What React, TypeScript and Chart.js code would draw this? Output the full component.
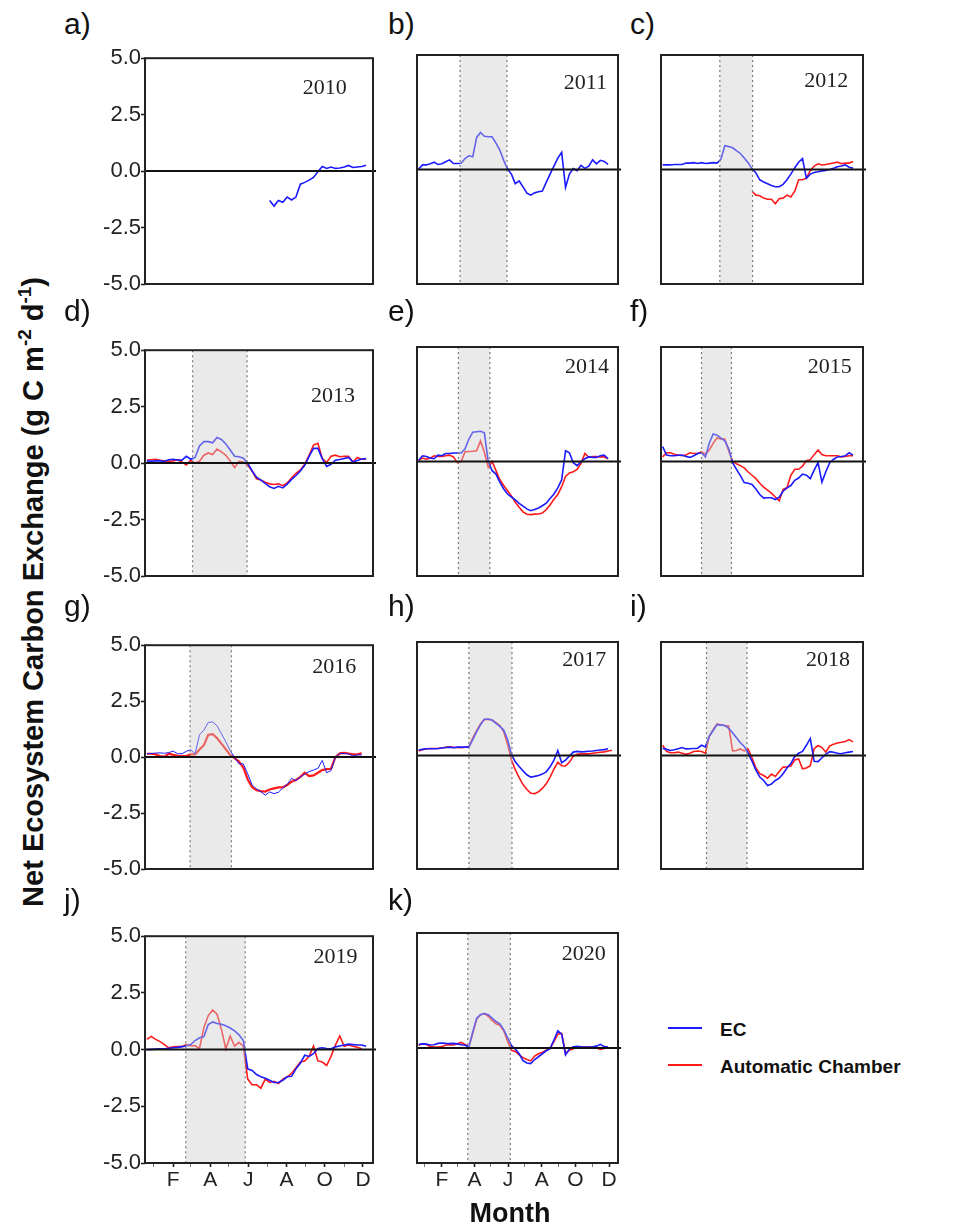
import React, { useEffect, useRef } from "react";
import { Chart, registerables } from "chart.js";

Chart.register(...registerables);

// ---------- data ----------
// weekly sampling grid (day of year)
const WEEK_DOY = Array.from({ length: 52 }, (_, i) => 4 + 7 * i);
// month tick positions (mid-month, day of year)
const MONTH_TICKS = [15, 46, 74, 105, 135, 166, 196, 227, 258, 288, 319, 349];
const MONTH_LABELS = ["", "F", "", "A", "", "J", "", "A", "", "O", "", "D"];
const Y_TICKS = [-5, -2.5, 0, 2.5, 5];

const YEARS = ["2010", "2011", "2012", "2013", "2014", "2015", "2016", "2017", "2018", "2019", "2020"];
const PANEL_LETTERS = ["a)", "b)", "c)", "d)", "e)", "f)", "g)", "h)", "i)", "j)", "k)"];

// growing-season shading (start DOY, end DOY); null = none
const SHADE_2010 = null;
const SHADE_2011 = [79, 164];
const SHADE_2012 = [107, 166];
const SHADE_2013 = [77, 164];
const SHADE_2014 = [76, 133];
const SHADE_2015 = [74, 128];
const SHADE_2016 = [73, 139];
const SHADE_2017 = [95, 173];
const SHADE_2018 = [83, 156];
const SHADE_2019 = [66, 161];
const SHADE_2020 = [93, 170];

const EC_2010 = [...Array(28).fill(null),
  -1.3, -1.55, -1.3, -1.38, -1.15, -1.28, -1.15, -0.58, -0.5, -0.4,
  -0.28, -0.03, 0.2, 0.12, 0.18, 0.12, 0.14, 0.18, 0.25, 0.16,
  0.18, 0.2, 0.26];

const EC_2011 = [0.02, 0.2, 0.2, 0.25, 0.32, 0.22, 0.25, 0.34, 0.42, 0.26,
  0.26, 0.27, 0.48, 0.6, 0.56, 1.4, 1.62, 1.45, 1.43, 1.43,
  1.15, 0.85, 0.4, 0.02, -0.2, -0.62, -0.5, -0.76, -1.03, -1.12,
  -1.02, -0.97, -0.94, -0.56, -0.2, 0.15, 0.5, 0.75, -0.78, -0.2,
  0.04, -0.05, 0.18, 0.05, 0.15, 0.42, 0.25, 0.4, 0.35, 0.22];

const EC_2012 = [0.2, 0.2, 0.2, 0.22, 0.22, 0.22, 0.28, 0.28, 0.3, 0.26,
  0.3, 0.26, 0.28, 0.3, 0.28, 0.45, 1.04, 1.0, 0.95, 0.82,
  0.7, 0.5, 0.3, 0.03, -0.15, -0.45, -0.55, -0.62, -0.7, -0.75,
  -0.75, -0.65, -0.45, -0.2, 0.08, 0.32, 0.48, -0.38, -0.2, -0.13,
  -0.1, -0.06, -0.04, 0.0, 0.05, 0.12, 0.15, 0.2, 0.1, 0.06];
const AC_2012 = [...Array(23).fill(null),
  -0.95, -1.12, -1.15, -1.25, -1.3, -1.3, -1.5, -1.28, -1.25, -1.12,
  -1.2, -0.95, -0.45, -0.45, -0.38, -0.05, 0.15, 0.25, 0.2, 0.22,
  0.25, 0.28, 0.32, 0.25, 0.28, 0.28, 0.35];

const EC_2013 = [0.1, 0.08, 0.1, 0.1, 0.08, 0.15, 0.17, 0.14, 0.13, 0.3,
  0.17, 0.25, 0.76, 0.95, 0.95, 0.9, 1.13, 1.05, 0.85, 0.58,
  0.3, 0.28, 0.22, 0.0, -0.35, -0.62, -0.75, -0.9, -1.05, -1.12,
  -1.03, -1.1, -0.93, -0.72, -0.55, -0.35, -0.1, 0.3, 0.65, 0.65,
  0.2, -0.15, -0.05, 0.13, 0.16, 0.2, 0.25, 0.05, 0.12, 0.18, 0.2];
const AC_2013 = [0.13, 0.15, 0.17, 0.12, 0.1, 0.08, 0.1, 0.15, 0.05, -0.08,
  0.12, 0.0, 0.08, 0.35, 0.45, 0.38, 0.62, 0.5, 0.35, 0.1,
  -0.2, 0.08, 0.05, -0.1, -0.35, -0.7, -0.75, -0.85, -0.92, -0.95,
  -0.92, -1.0, -0.88, -0.65, -0.45, -0.3, -0.05, 0.35, 0.8, 0.88,
  0.2, 0.03, 0.3, 0.35, 0.28, 0.3, 0.3, 0.05, 0.25, 0.17, 0.17];

const EC_2014 = [0.05, 0.25, 0.22, 0.15, 0.12, 0.28, 0.25, 0.35, 0.35, 0.37,
  0.37, 0.37, 0.55, 0.98, 1.28, 1.3, 1.32, 1.25, 0.0, -0.4,
  -0.55, -0.9, -1.2, -1.42, -1.55, -1.68, -1.83, -1.95, -2.07, -2.15,
  -2.1, -2.03, -1.93, -1.82, -1.62, -1.42, -1.15, -0.8, 0.47, 0.38,
  -0.05, -0.18, -0.02, 0.12, 0.2, 0.18, 0.18, 0.25, 0.28, 0.12];
const AC_2014 = [0.05, 0.15, 0.1, 0.15, 0.25, 0.22, 0.22, 0.25, 0.28, 0.2,
  -0.05, 0.0, 0.43, 0.44, 0.45, 0.47, 0.9, 0.4, -0.25, 0.0,
  -0.4, -0.8, -1.05, -1.28, -1.5, -1.78, -2.0, -2.2, -2.3, -2.32,
  -2.3, -2.29, -2.25, -2.1, -1.9, -1.65, -1.44, -1.1, -0.65, -0.5,
  -0.45, -0.35, -0.08, 0.35, 0.18, 0.22, 0.22, 0.2, 0.2, 0.12];

const EC_2015 = [0.65, 0.28, 0.25, 0.25, 0.27, 0.28, 0.22, 0.18, 0.25, 0.35,
  0.38, 0.2, 0.8, 1.2, 1.15, 1.02, 0.9, 0.55, -0.05, -0.34,
  -0.62, -0.92, -0.95, -1.0, -1.2, -1.44, -1.6, -1.58, -1.58, -1.66,
  -1.56, -1.3, -1.15, -1.05, -0.82, -0.72, -0.55, -0.6, -0.75, -0.38,
  -0.05, -0.9, -0.45, -0.05, 0.1, 0.2, 0.22, 0.25, 0.38, 0.28];
const AC_2015 = [0.2, 0.38, 0.38, 0.32, 0.28, 0.25, 0.28, 0.38, 0.35, 0.35,
  0.42, 0.32, 0.5, 0.79, 1.03, 0.98, 0.98, 0.47, 0.0, -0.1,
  -0.18, -0.28, -0.46, -0.6, -0.75, -0.95, -1.12, -1.25, -1.38, -1.55,
  -1.72, -1.22, -1.15, -0.6, -0.34, -0.34, -0.2, 0.03, 0.08, 0.3,
  0.5, 0.3, 0.25, 0.25, 0.25, 0.25, 0.2, 0.22, 0.25, 0.25];

const EC_2016 = [0.15, 0.16, 0.18, 0.19, 0.17, 0.2, 0.27, 0.15, 0.15, 0.26,
  0.33, 0.15, 1.0, 1.2, 1.55, 1.57, 1.4, 1.05, 0.68, 0.3,
  -0.02, -0.3, -0.3, -0.75, -1.25, -1.42, -1.55, -1.7, -1.56, -1.63,
  -1.57, -1.38, -1.22, -0.95, -1.05, -0.9, -0.76, -0.65, -0.58, -0.5,
  -0.15, -0.7, -0.6, 0.0, 0.16, 0.16, 0.14, 0.05, 0.1, 0.09];
const AC_2016 = [0.15, 0.15, 0.12, 0.05, 0.02, 0.15, 0.1, 0.06, 0.04, 0.05,
  0.12, 0.12, 0.34, 0.53, 1.0, 1.03, 0.85, 0.6, 0.35, 0.1,
  -0.05, -0.2, -0.47, -1.0, -1.35, -1.48, -1.52, -1.54, -1.45, -1.4,
  -1.35, -1.35, -1.25, -1.1, -1.02, -0.88, -0.7, -0.85, -0.82, -0.7,
  -0.58, -0.54, -0.52, 0.0, 0.17, 0.19, 0.16, 0.12, 0.12, 0.17];

const EC_2017 = [0.24, 0.27, 0.3, 0.3, 0.3, 0.31, 0.33, 0.35, 0.37, 0.34,
  0.37, 0.37, 0.37, 0.37, 0.7, 1.05, 1.35, 1.6, 1.6, 1.56,
  1.42, 1.28, 1.12, 0.7, 0.05, -0.28, -0.48, -0.68, -0.85, -0.95,
  -0.92, -0.88, -0.82, -0.72, -0.5, -0.2, 0.22, -0.32, -0.2, -0.02,
  0.15, 0.18, 0.16, 0.17, 0.19, 0.2, 0.22, 0.24, 0.26, 0.3];
const AC_2017 = [0.2, 0.26, 0.3, 0.31, 0.31, 0.31, 0.33, 0.36, 0.38, 0.36,
  0.35, 0.34, 0.36, 0.38, 0.78, 1.1, 1.4, 1.58, 1.6, 1.56,
  1.45, 1.32, 1.05, 0.5, -0.2, -0.62, -0.97, -1.28, -1.5, -1.66,
  -1.68, -1.6, -1.45, -1.25, -0.95, -0.6, -0.3, -0.45, -0.46, -0.3,
  -0.03, 0.05, 0.07, 0.07, 0.07, 0.1, 0.12, 0.14, 0.16, 0.2, 0.23];

const EC_2018 = [0.32, 0.27, 0.22, 0.25, 0.3, 0.35, 0.29, 0.3, 0.31, 0.32,
  0.45, 0.38, 0.85, 1.1, 1.36, 1.34, 1.32, 1.2, 1.0, 0.78,
  0.56, 0.4, 0.1, -0.25, -0.65, -0.95, -1.1, -1.32, -1.26, -1.1,
  -1.0, -0.8, -0.55, -0.35, -0.05, 0.1, 0.18, 0.45, 0.75, -0.25,
  -0.27, -0.1, 0.05, 0.17, 0.14, 0.1, 0.08, 0.12, 0.15, 0.18];
const AC_2018 = [0.45, 0.18, 0.12, 0.12, 0.15, 0.1, 0.05, 0.1, 0.18, 0.2,
  0.18, 0.1, 0.85, 1.15, 1.39, 1.35, 1.32, 1.3, 0.2, 0.22,
  0.29, 0.2, 0.28, -0.1, -0.55, -0.8, -0.88, -1.0, -0.82, -0.92,
  -0.7, -0.51, -0.5, -0.46, -0.2, -0.15, -0.59, -0.55, -0.45, 0.3,
  0.44, 0.35, 0.15, 0.42, 0.5, 0.55, 0.58, 0.62, 0.7, 0.6];

const EC_2019 = [0.0, 0.01, 0.02, 0.03, 0.04, 0.06, 0.08, 0.1, 0.13, 0.16,
  0.22, 0.4, 0.52, 0.57, 1.1, 1.22, 1.15, 1.12, 1.05, 0.95,
  0.83, 0.65, 0.4, -0.85, -0.92, -1.1, -1.2, -1.26, -1.35, -1.45,
  -1.45, -1.35, -1.2, -1.18, -0.85, -0.6, -0.25, -0.3, -0.18, 0.05,
  0.08, 0.05, 0.04, 0.12, 0.16, 0.2, 0.24, 0.22, 0.2, 0.2, 0.15];
const AC_2019 = [0.45, 0.58, 0.45, 0.35, 0.22, 0.08, 0.12, 0.13, 0.13, 0.22,
  0.17, 0.17, 0.05, 0.97, 1.5, 1.75, 1.56, 0.9, 0.03, 0.6,
  0.15, 0.32, 0.15, -1.3, -1.55, -1.55, -1.7, -1.3, -1.45, -1.4,
  -1.5, -1.3, -1.2, -1.05, -0.8, -0.55, -0.5, -0.3, 0.15, -0.5,
  -0.55, -0.7, -0.3, 0.2, 0.6, 0.15, 0.2, 0.15, 0.1, 0.04];

const EC_2020 = [0.15, 0.18, 0.17, 0.13, 0.14, 0.2, 0.22, 0.2, 0.19, 0.2,
  0.18, 0.14, 0.12, 0.05, 0.7, 1.3, 1.45, 1.5, 1.45, 1.3,
  1.15, 1.05, 0.8, 0.45, 0.1, -0.05, -0.25, -0.55, -0.65, -0.68,
  -0.5, -0.38, -0.25, -0.12, -0.03, 0.35, 0.75, 0.6, -0.3, -0.05,
  0.05, 0.07, 0.05, 0.04, 0.04, 0.05, 0.08, 0.16, 0.06, 0.04];
const AC_2020 = [0.12, 0.18, 0.15, 0.06, 0.04, 0.04, 0.06, 0.13, 0.14, 0.13,
  0.18, 0.24, 0.15, 0.05, 0.63, 1.25, 1.45, 1.5, 1.38, 1.2,
  1.05, 0.99, 0.75, 0.3, -0.1, -0.15, -0.3, -0.42, -0.5, -0.56,
  -0.35, -0.25, -0.18, -0.1, -0.02, 0.28, 0.6, 0.63, -0.22, -0.1,
  -0.03, 0.03, 0.04, 0.04, 0.04, 0.04, 0.0, -0.06, -0.02, 0.04];

const EC_SERIES = [EC_2010, EC_2011, EC_2012, EC_2013, EC_2014, EC_2015, EC_2016, EC_2017, EC_2018, EC_2019, EC_2020];
const AC_SERIES = [null, null, AC_2012, AC_2013, AC_2014, AC_2015, AC_2016, AC_2017, AC_2018, AC_2019, AC_2020];
const SHADES = [SHADE_2010, SHADE_2011, SHADE_2012, SHADE_2013, SHADE_2014, SHADE_2015, SHADE_2016, SHADE_2017, SHADE_2018, SHADE_2019, SHADE_2020];

// ---------- layout & style ----------
const COL_X = [145, 417, 661];
const COL_W = [228, 201, 202];
const ROW_Y = [55, 347, 642, 933];
const ROW_H = [229, 229, 227, 230];
const LABEL_X = [64, 388, 630];
const LABEL_BASE = [34, 321, 616, 910];
// year label anchor in data units (DOY, value)
const YEAR_POS = [[288, 3.67], [306, 3.76], [299, 3.87], [301, 2.97], [309, 4.1], [305, 4.1], [303, 4.03], [304, 4.2], [302, 4.2], [305, 4.07], [303, 4.07]];

const PAD_L = 70, PAD_R = 10, PAD_T = 10, PAD_B = 32;
const BLUE = "#1a1aff";
const RED = "#ff1a1a";
const SANS = '"Liberation Sans", Arial, Helvetica, sans-serif';
const SERIF = '"Liberation Serif", "Times New Roman", serif';

const toXY = (vals: (number | null)[]) =>
  vals.map((v, i) => ({ x: WEEK_DOY[i], y: v }));

const decoPlugin = {
  id: "panelDeco",
  afterDatasetsDraw(chart: any, _args: any, opts: any) {
    const { ctx, chartArea: a, scales } = chart;
    const x = scales.x, y = scales.y;
    ctx.save();
    if (opts.shade) {
      const x0 = x.getPixelForValue(opts.shade[0]);
      const x1 = x.getPixelForValue(opts.shade[1]);
      ctx.fillStyle = "rgba(205,205,205,0.42)";
      ctx.fillRect(x0, a.top, x1 - x0, a.bottom - a.top);
      ctx.strokeStyle = "#7a7a7a";
      ctx.lineWidth = 1.2;
      ctx.setLineDash([2, 3]);
      for (const xv of [x0, x1]) {
        ctx.beginPath();
        ctx.moveTo(xv, a.top);
        ctx.lineTo(xv, a.bottom);
        ctx.stroke();
      }
      ctx.setLineDash([]);
    }
    const y0 = y.getPixelForValue(0);
    ctx.strokeStyle = "#111";
    ctx.lineWidth = 2;
    ctx.beginPath();
    ctx.moveTo(a.left, y0);
    ctx.lineTo(a.right + 3, y0);
    ctx.stroke();
    ctx.strokeStyle = "#222";
    ctx.lineWidth = 2;
    ctx.strokeRect(a.left, a.top, a.right - a.left, a.bottom - a.top);
    ctx.fillStyle = "#222";
    ctx.font = `22px ${SERIF}`;
    ctx.textAlign = "center";
    ctx.textBaseline = "middle";
    ctx.fillText(opts.year, x.getPixelForValue(opts.yearPos[0]), y.getPixelForValue(opts.yearPos[1]));
    ctx.restore();
  },
};

function Panel({ idx }: { idx: number }) {
  const ref = useRef<HTMLCanvasElement | null>(null);
  const col = idx % 3;
  const row = Math.floor(idx / 3);
  const L = COL_X[col], W = COL_W[col], T = ROW_Y[row], H = ROW_H[row];
  const cw = W + PAD_L + PAD_R;
  const ch = H + PAD_T + PAD_B;

  useEffect(() => {
    const showY = col === 0;
    const showX = row === 3;
    const datasets: any[] = [
      {
        label: "EC",
        data: toXY(EC_SERIES[idx]),
        borderColor: BLUE,
        borderWidth: idx === 6 ? 1 : 1.6,
        pointRadius: 0,
        tension: 0,
        spanGaps: false,
        order: 1,
      },
    ];
    const ac = AC_SERIES[idx];
    if (ac) {
      datasets.push({
        label: "Automatic Chamber",
        data: toXY(ac),
        borderColor: RED,
        borderWidth: idx === 6 ? 2.2 : 1.6,
        pointRadius: 0,
        tension: 0,
        spanGaps: false,
        order: 2,
      });
    }
    const chart = new Chart(ref.current as HTMLCanvasElement, {
      type: "line",
      data: { datasets },
      options: {
        animation: false,
        responsive: false,
        devicePixelRatio: 1,
        events: [],
        layout: { padding: { left: 0, right: PAD_R, top: PAD_T, bottom: 0 } },
        plugins: {
          legend: { display: false },
          tooltip: { enabled: false },
          panelDeco: { shade: SHADES[idx], year: YEARS[idx], yearPos: YEAR_POS[idx] },
        } as any,
        scales: {
          x: {
            type: "linear",
            min: 1,
            max: 365,
            afterFit: (s: any) => { s.height = PAD_B; },
            afterBuildTicks: (s: any) => { s.ticks = MONTH_TICKS.map((v) => ({ value: v })); },
            ticks: {
              display: showX,
              autoSkip: false,
              maxRotation: 0,
              padding: 1,
              color: "#222",
              font: { family: SANS, size: 21 },
              callback: (_v: any, i: number) => MONTH_LABELS[i],
            },
            grid: {
              display: showX,
              drawOnChartArea: false,
              drawTicks: showX,
              tickLength: 4,
              tickColor: (c: any) => (MONTH_LABELS[c.index] ? "#222" : "#777"),
              tickWidth: (c: any) => (MONTH_LABELS[c.index] ? 1.6 : 1),
            },
            border: { display: false },
          },
          y: {
            type: "linear",
            min: -5,
            max: 5,
            afterFit: (s: any) => { s.width = PAD_L; },
            afterBuildTicks: (s: any) => { s.ticks = Y_TICKS.map((v) => ({ value: v })); },
            ticks: {
              display: showY,
              padding: 0,
              color: "#222",
              font: { family: SANS, size: 22 },
              callback: (v: any) => Number(v).toFixed(1),
            },
            grid: {
              display: showY,
              drawOnChartArea: false,
              drawTicks: showY,
              tickLength: 4,
              tickColor: "#222",
              tickWidth: 1.6,
            },
            border: { display: false },
          },
        },
      } as any,
      plugins: [decoPlugin],
    });
    return () => chart.destroy();
  }, []);

  return (
    <canvas
      ref={ref}
      width={cw}
      height={ch}
      style={{ position: "absolute", left: L - PAD_L, top: T - PAD_T, width: cw, height: ch }}
    />
  );
}

export default function App() {
  const labelSize = 30;
  return (
    <div style={{ position: "absolute", left: 0, top: 0, width: 972, height: 1224, background: "#fff", overflow: "hidden", fontFamily: SANS }}>
      {YEARS.map((_, i) => (
        <Panel key={i} idx={i} />
      ))}
      {PANEL_LETTERS.map((t, i) => (
        <div
          key={t}
          style={{
            position: "absolute",
            left: LABEL_X[i % 3],
            top: LABEL_BASE[Math.floor(i / 3)] - 0.8465 * labelSize,
            fontSize: labelSize,
            lineHeight: 1,
            color: "#111",
            whiteSpace: "nowrap",
          }}
        >
          {t}
        </div>
      ))}
      <div
        style={{
          position: "absolute",
          left: 33,
          top: 592,
          transform: "translate(-50%, -50%) rotate(-90deg)",
          fontSize: 29,
          fontWeight: "bold",
          lineHeight: 1,
          whiteSpace: "nowrap",
          color: "#111",
        }}
      >
        Net Ecosystem Carbon Exchange (g C m<sup style={{ fontSize: "0.65em", verticalAlign: "0.6em", lineHeight: 0 }}>-2</sup> d<sup style={{ fontSize: "0.65em", verticalAlign: "0.6em", lineHeight: 0 }}>-1</sup>)
      </div>
      <div
        style={{
          position: "absolute",
          left: 510,
          top: 1199.5,
          transform: "translateX(-50%)",
          fontSize: 27,
          fontWeight: "bold",
          lineHeight: 1,
          color: "#111",
          whiteSpace: "nowrap",
        }}
      >
        Month
      </div>
      <div style={{ position: "absolute", left: 668, top: 1027, width: 34, height: 2, background: BLUE }} />
      <div style={{ position: "absolute", left: 720, top: 1019.5, fontSize: 19, fontWeight: "bold", lineHeight: 1, color: "#111" }}>EC</div>
      <div style={{ position: "absolute", left: 668, top: 1064, width: 34, height: 2, background: RED }} />
      <div style={{ position: "absolute", left: 720, top: 1057, fontSize: 19, fontWeight: "bold", lineHeight: 1, color: "#111", whiteSpace: "nowrap" }}>Automatic Chamber</div>
    </div>
  );
}
